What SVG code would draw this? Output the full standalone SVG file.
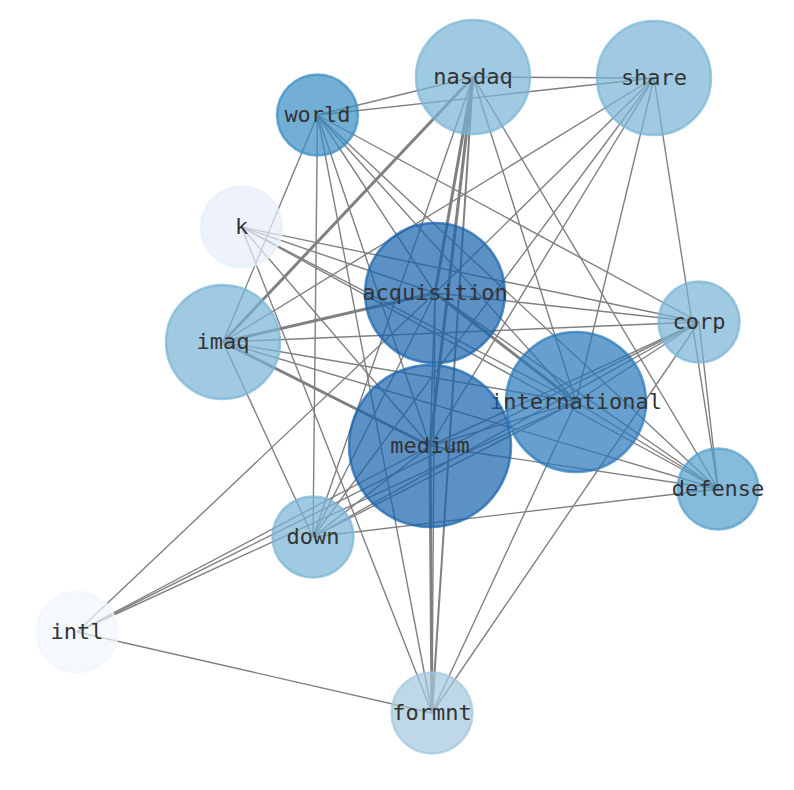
<svg xmlns="http://www.w3.org/2000/svg" width="794" height="790" viewBox="0 0 794 790">
<style>
.e{stroke:#808080;stroke-width:1.4;fill:none}
.t{stroke-width:3}
.m{stroke-width:2}
.n circle{stroke-width:2.5}
text{font-family:"DejaVu Sans Mono","Liberation Mono",monospace;font-size:22px;fill:#333;text-anchor:middle}
</style>
<rect width="794" height="790" fill="#fff"/>
<g id="edges">
<!-- nasdaq -->
<line class="e" x1="473" y1="77" x2="317.5" y2="115"/>
<line class="e" x1="473" y1="77" x2="654" y2="78"/>
<line class="e t" x1="473" y1="77" x2="223" y2="342"/>
<line class="e t" x1="473" y1="77" x2="435" y2="293"/>
<line class="e t" x1="473" y1="77" x2="430" y2="446"/>
<line class="e m" x1="473" y1="77" x2="432" y2="713"/>
<line class="e" x1="473" y1="77" x2="313" y2="537"/>
<line class="e" x1="473" y1="77" x2="576" y2="402"/>
<line class="e" x1="473" y1="77" x2="718" y2="489"/>
<!-- share -->
<line class="e" x1="654" y1="78" x2="317.5" y2="115"/>
<line class="e" x1="654" y1="78" x2="223" y2="342"/>
<line class="e" x1="654" y1="78" x2="435" y2="293"/>
<line class="e" x1="654" y1="78" x2="430" y2="446"/>
<line class="e" x1="654" y1="78" x2="313" y2="537"/>
<line class="e" x1="654" y1="78" x2="576" y2="402"/>
<line class="e" x1="654" y1="78" x2="718" y2="489"/>
<!-- world -->
<line class="e" x1="317.5" y1="115" x2="223" y2="342"/>
<line class="e" x1="317.5" y1="115" x2="313" y2="537"/>
<line class="e" x1="317.5" y1="115" x2="432" y2="713"/>
<line class="e" x1="317.5" y1="115" x2="430" y2="446"/>
<line class="e" x1="317.5" y1="115" x2="435" y2="293"/>
<line class="e" x1="317.5" y1="115" x2="576" y2="402"/>
<line class="e" x1="317.5" y1="115" x2="718" y2="489"/>
<line class="e" x1="317.5" y1="115" x2="699" y2="322"/>
<!-- k -->
<line class="e" x1="241.5" y1="227" x2="435" y2="293"/>
<line class="e" x1="241.5" y1="227" x2="699" y2="322"/>
<line class="e" x1="241.5" y1="227" x2="576" y2="402"/>
<line class="e" x1="241.5" y1="227" x2="718" y2="489"/>
<line class="e" x1="241.5" y1="227" x2="430" y2="446"/>
<line class="e" x1="241.5" y1="227" x2="432" y2="713"/>
<!-- imaq -->
<line class="e t" x1="223" y1="342" x2="435" y2="293"/>
<line class="e" x1="223" y1="342" x2="699" y2="322"/>
<line class="e" x1="223" y1="342" x2="576" y2="402"/>
<line class="e" x1="223" y1="342" x2="718" y2="489"/>
<line class="e t" x1="223" y1="342" x2="430" y2="446"/>
<line class="e" x1="223" y1="342" x2="313" y2="537"/>
<!-- acquisition -->
<line class="e" x1="435" y1="293" x2="699" y2="322"/>
<line class="e t" x1="435" y1="293" x2="576" y2="402"/>
<line class="e" x1="435" y1="293" x2="430" y2="446"/>
<line class="e" x1="435" y1="293" x2="432" y2="713"/>
<line class="e" x1="435" y1="293" x2="313" y2="537"/>
<line class="e" x1="435" y1="293" x2="77" y2="632"/>
<line class="e" x1="435" y1="293" x2="718" y2="489"/>
<!-- corp -->
<line class="e" x1="699" y1="322" x2="430" y2="446"/>
<line class="e" x1="699" y1="322" x2="313" y2="537"/>
<line class="e" x1="699" y1="322" x2="77" y2="632"/>
<line class="e" x1="699" y1="322" x2="576" y2="402"/>
<line class="e" x1="699" y1="322" x2="432" y2="713"/>
<line class="e" x1="699" y1="322" x2="718" y2="489"/>
<!-- international -->
<line class="e" x1="576" y1="402" x2="718" y2="489"/>
<line class="e" x1="576" y1="402" x2="313" y2="537"/>
<line class="e" x1="576" y1="402" x2="77" y2="632"/>
<line class="e" x1="576" y1="402" x2="432" y2="713"/>
<line class="e" x1="576" y1="402" x2="430" y2="446"/>
<!-- medium -->
<line class="e" x1="430" y1="446" x2="313" y2="537"/>
<line class="e" x1="430" y1="446" x2="77" y2="632"/>
<line class="e t" x1="430" y1="446" x2="432" y2="713"/>
<line class="e" x1="430" y1="446" x2="718" y2="489"/>
<!-- defense / down / intl -->
<line class="e" x1="718" y1="489" x2="313" y2="537"/>
<line class="e" x1="77" y1="632" x2="432" y2="713"/>
</g>
<g id="nasdaq" class="n"><circle cx="473" cy="77" r="57" fill="#77b3d6" fill-opacity="0.7" stroke="#77b3d6" stroke-opacity="0.7"/><text x="473" y="84">nasdaq</text></g>
<g id="share" class="n"><circle cx="654" cy="78" r="57" fill="#77b3d6" fill-opacity="0.7" stroke="#77b3d6" stroke-opacity="0.7"/><text x="654" y="85">share</text></g>
<g id="world" class="n"><circle cx="317.5" cy="115" r="40.5" fill="#388bc3" fill-opacity="0.7" stroke="#388bc3" stroke-opacity="0.7"/><text x="317.5" y="122">world</text></g>
<g id="k" class="n"><circle cx="241.5" cy="227" r="40.5" fill="#e7eef9" fill-opacity="0.7" stroke="#e7eef9" stroke-opacity="0.7"/><text x="241.5" y="234">k</text></g>
<g id="acquisition" class="n"><circle cx="435" cy="293" r="70" fill="#1662ac" fill-opacity="0.7" stroke="#1662ac" stroke-opacity="0.7"/><text x="435" y="300">acquisition</text></g>
<g id="imaq" class="n"><circle cx="223" cy="342" r="57" fill="#77b3d6" fill-opacity="0.7" stroke="#77b3d6" stroke-opacity="0.7"/><text x="223" y="349">imaq</text></g>
<g id="corp" class="n"><circle cx="699" cy="322" r="40.5" fill="#77b3d6" fill-opacity="0.7" stroke="#77b3d6" stroke-opacity="0.7"/><text x="699" y="329">corp</text></g>
<g id="international" class="n"><circle cx="576" cy="402" r="70" fill="#2677b9" fill-opacity="0.7" stroke="#2677b9" stroke-opacity="0.7"/><text x="576" y="409">international</text></g>
<g id="medium" class="n"><circle cx="430" cy="446" r="81" fill="#1662ac" fill-opacity="0.7" stroke="#1662ac" stroke-opacity="0.7"/><text x="430" y="453">medium</text></g>
<g id="defense" class="n"><circle cx="718" cy="489" r="40.5" fill="#529ecd" fill-opacity="0.7" stroke="#529ecd" stroke-opacity="0.7"/><text x="718" y="496">defense</text></g>
<g id="down" class="n"><circle cx="313" cy="537" r="40.5" fill="#77b3d6" fill-opacity="0.7" stroke="#77b3d6" stroke-opacity="0.7"/><text x="313" y="544">down</text></g>
<g id="intl" class="n"><circle cx="77" cy="632" r="40.5" fill="#f1f6fd" fill-opacity="0.7" stroke="#f1f6fd" stroke-opacity="0.7"/><text x="77" y="639">intl</text></g>
<g id="formnt" class="n"><circle cx="432" cy="713" r="40.5" fill="#a2c7de" fill-opacity="0.7" stroke="#a2c7de" stroke-opacity="0.7"/><text x="432" y="720">formnt</text></g>
</svg>
